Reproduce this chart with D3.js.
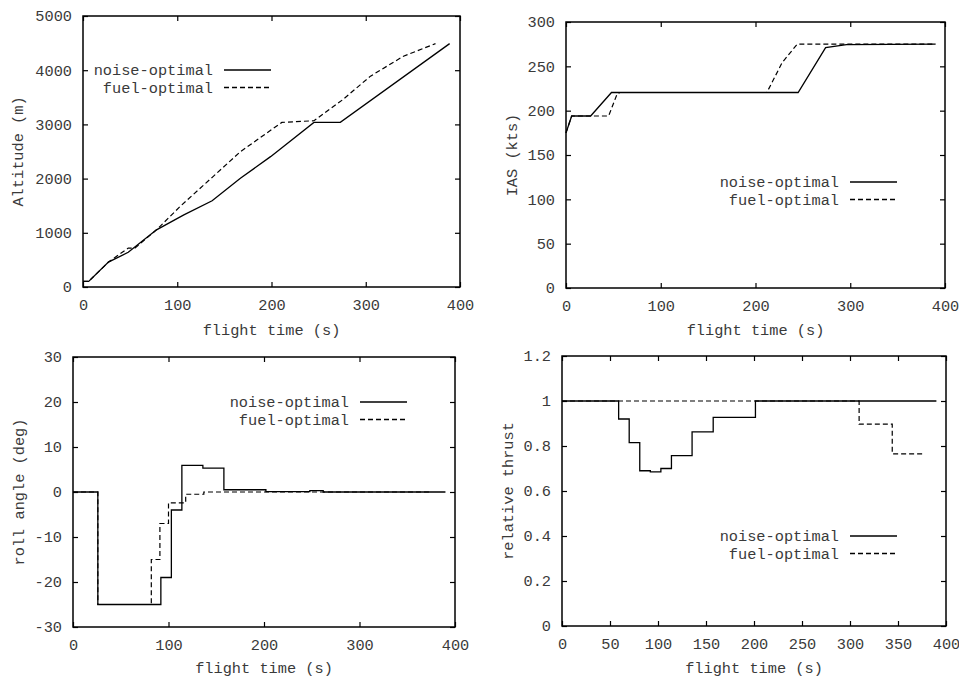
<!DOCTYPE html>
<html>
<head>
<meta charset="utf-8">
<script src="https://cdn.jsdelivr.net/npm/d3@7"></script>
<style>
  body { margin: 0; background: #fff; }
  svg text { font-family: "Liberation Mono", "DejaVu Sans Mono", monospace; font-size: 15.3px; fill: #3a3a3a; }
</style>
</head>
<body>
<div id="chart"></div>
<script>
// Series: [flight time (s), value]
const altitudeNoise = [[0,104],[6,104],[27,460],[48,640],[78,1055],[107,1330],[137,1590],[167,2006],[199,2405],[245,3037],[273,3037],[389,4490]];
const altitudeFuel = [[0,104],[6,104],[27,460],[48,718],[55,718],[78,1055],[103,1485],[138,2037],[167,2497],[211,3037],[245,3067],[275,3448],[305,3890],[340,4258],[374,4490]];

const iasNoise = [[0,175],[6,194],[26,194],[48,220.5],[245,220.5],[274,271],[296,274.5],[390,275]];
const iasFuel = [[0,175],[6,194],[45,194],[54,219],[57,220.5],[212,220.5],[228,254],[244,275],[390,275]];

const rollNoise = [[0,0],[26,-25],[92,-19],[103,-4],[114,5.9],[136,5.3],[158,0.5],[202,0.1],[248,0.3],[262,0],[390,0]];
const rollFuel = [[0,0],[26,-25],[82,-15],[91,-7],[100,-2.4],[118,-0.5],[137,0],[374,0]];

const thrustNoise = [[0,1],[59,0.92],[70,0.815],[81,0.69],[92,0.685],[103,0.70],[114,0.757],[135.5,0.863],[157.5,0.927],[201.5,1],[390,1]];
const thrustFuel = [[0,1],[309.5,0.897],[344,0.765],[377,0.765]];

// Tick values
const timeTicks = [0, 100, 200, 300, 400];
const timeTicksFine = [0, 50, 100, 150, 200, 250, 300, 350, 400];
const altitudeTicks = [0, 1000, 2000, 3000, 4000, 5000];
const iasTicks = [0, 50, 100, 150, 200, 250, 300];
const rollTicks = [-30, -20, -10, 0, 10, 20, 30];
const thrustTicks = [0, 0.2, 0.4, 0.6, 0.8, 1, 1.2];

const seriesNames = ["noise-optimal", "fuel-optimal"];

const width = 959, height = 677;

const svg = d3.select("#chart")
  .append("svg")
  .attr("width", width)
  .attr("height", height);

svg.append("rect").attr("width", width).attr("height", height).attr("fill", "#fff");

function drawPanel(p) {
  const x = d3.scaleLinear().domain([0, 400]).range([p.left, p.right]);
  const y = d3.scaleLinear().domain(p.yDomain).range([p.bottom, p.top]);
  const g = svg.append("g");
  const tick = 5;

  // inward ticks on all four sides
  g.append("g")
    .attr("transform", `translate(0,${p.bottom})`)
    .call(d3.axisBottom(x).tickValues(p.xTicks).tickSize(-tick).tickSizeOuter(0).tickPadding(12).tickFormat(d => String(d)));
  g.append("g")
    .attr("transform", `translate(${p.left},0)`)
    .call(d3.axisLeft(y).tickValues(p.yTicks).tickSize(-tick).tickSizeOuter(0).tickPadding(11).tickFormat(d => String(d)));
  g.append("g")
    .attr("transform", `translate(0,${p.top})`)
    .call(d3.axisTop(x).tickValues(p.xTicks).tickSize(-tick).tickSizeOuter(0).tickFormat(""));
  g.append("g")
    .attr("transform", `translate(${p.right},0)`)
    .call(d3.axisRight(y).tickValues(p.yTicks).tickSize(-tick).tickSizeOuter(0).tickFormat(""));

  g.selectAll(".domain").remove();
  g.selectAll(".tick line").attr("stroke", "#000").attr("stroke-width", 1.2);
  g.selectAll("g").attr("font-family", null).attr("font-size", null);

  // data lines
  const line = d3.line()
    .x(d => x(d[0]))
    .y(d => y(d[1]))
    .curve(p.step ? d3.curveStepAfter : d3.curveLinear);

  g.append("path")
    .datum(p.fuel)
    .attr("fill", "none")
    .attr("stroke", "#000")
    .attr("stroke-width", 1.2)
    .attr("stroke-dasharray", "5,3")
    .attr("d", line);

  g.append("path")
    .datum(p.noise)
    .attr("fill", "none")
    .attr("stroke", "#000")
    .attr("stroke-width", 1.3)
    .attr("d", line);

  // frame
  g.append("rect")
    .attr("x", p.left)
    .attr("y", p.top)
    .attr("width", p.right - p.left)
    .attr("height", p.bottom - p.top)
    .attr("fill", "none")
    .attr("stroke", "#000")
    .attr("stroke-width", 1.5);

  // axis labels
  g.append("text")
    .attr("x", (p.left + p.right) / 2)
    .attr("y", p.xLabelY)
    .attr("text-anchor", "middle")
    .attr("dy", "0.35em")
    .text("flight time (s)");

  g.append("text")
    .attr("transform", `translate(${p.yLabelX},${(p.top + p.bottom) / 2}) rotate(-90)`)
    .attr("text-anchor", "middle")
    .attr("dy", "0.35em")
    .text(p.yLabel);

  // legend
  seriesNames.forEach((name, i) => {
    const ly = p.legendY + i * 17.5;
    g.append("text")
      .attr("x", p.legendX)
      .attr("y", ly)
      .attr("dy", "0.35em")
      .attr("text-anchor", "end")
      .text(name);
    g.append("line")
      .attr("x1", p.legendX + 11)
      .attr("x2", p.legendX + 58)
      .attr("y1", ly)
      .attr("y2", ly)
      .attr("stroke", "#000")
      .attr("stroke-width", 1.3)
      .attr("stroke-dasharray", i === 1 ? "5,3" : null);
  });
}

drawPanel({
  left: 83, right: 460, top: 16, bottom: 287,
  yDomain: [0, 5000], yTicks: altitudeTicks, xTicks: timeTicks,
  noise: altitudeNoise, fuel: altitudeFuel, step: false,
  yLabel: "Altitude (m)", yLabelX: 18, xLabelY: 330,
  legendX: 213, legendY: 70
});

drawPanel({
  left: 566, right: 945, top: 22, bottom: 288,
  yDomain: [0, 300], yTicks: iasTicks, xTicks: timeTicks,
  noise: iasNoise, fuel: iasFuel, step: false,
  yLabel: "IAS (kts)", yLabelX: 512, xLabelY: 330,
  legendX: 839, legendY: 182
});

drawPanel({
  left: 73, right: 455, top: 357, bottom: 627,
  yDomain: [-30, 30], yTicks: rollTicks, xTicks: timeTicks,
  noise: rollNoise, fuel: rollFuel, step: true,
  yLabel: "roll angle (deg)", yLabelX: 19, xLabelY: 668,
  legendX: 349, legendY: 402
});

drawPanel({
  left: 562, right: 946, top: 356, bottom: 626,
  yDomain: [0, 1.2], yTicks: thrustTicks, xTicks: timeTicksFine,
  noise: thrustNoise, fuel: thrustFuel, step: true,
  yLabel: "relative thrust", yLabelX: 508, xLabelY: 668,
  legendX: 839, legendY: 536
});
</script>
</body>
</html>
